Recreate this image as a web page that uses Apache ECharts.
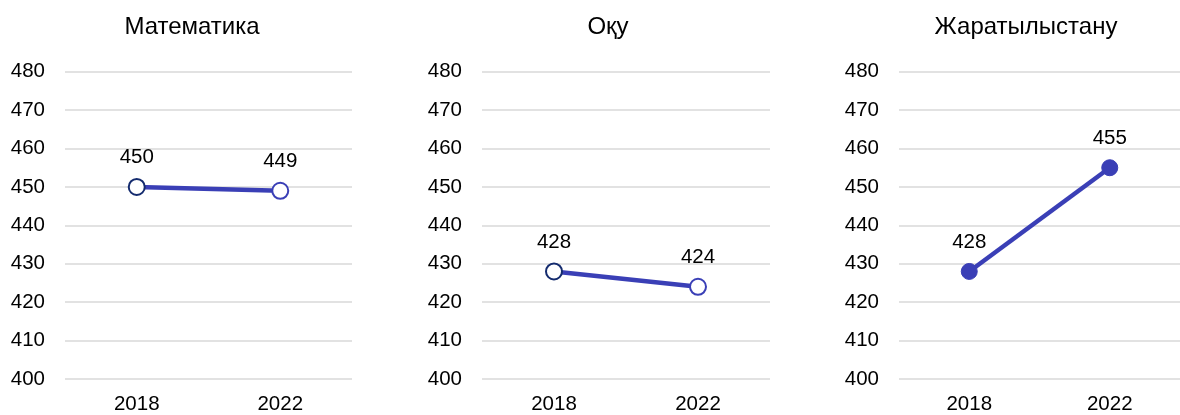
<!DOCTYPE html>
<html><head><meta charset="utf-8">
<script src="https://cdn.jsdelivr.net/npm/echarts@6/dist/echarts.min.js"></script>
<style>html,body{margin:0;padding:0;background:#fff}#c{width:1180px;height:415px}</style>
</head><body><div id="c"></div>
<script>
const titles = ['Математика', 'Оқу', 'Жаратылыстану'];
const years = ['2018', '2022'];
const mathValues = [450, 449];
const readingValues = [428, 424];
const scienceValues = [428, 455];
const yMin = 400, yMax = 480, yStep = 10;

const allValues = [mathValues, readingValues, scienceValues];
const font = '"Liberation Sans", Arial, sans-serif';
const lineColor = '#3A3FB6';
const gridsPos = [
  {left: 65, width: 287},
  {left: 482, width: 288},
  {left: 899, width: 288}
];
const titleCenters = [187, 603, 1021];
const hollow = [true, true, false];

const chart = echarts.init(document.getElementById('c'));
const option = {
  animation: false,
  backgroundColor: '#fff',
  title: titles.map((t, i) => ({
    text: t, left: titleCenters[i], top: 10, textAlign: 'center',
    textStyle: {fontFamily: font, fontSize: 24, fontWeight: 'normal', color: '#000'}
  })),
  grid: gridsPos.map(g => ({left: g.left, width: g.width, top: 71.7, height: 307.6, containLabel: false})),
  xAxis: gridsPos.map((g, i) => ({
    type: 'category', gridIndex: i, data: years, boundaryGap: true,
    axisLine: {show: false}, axisTick: {show: false},
    axisLabel: {fontFamily: font, fontSize: 20.5, color: '#000', margin: 15}
  })),
  yAxis: gridsPos.map((g, i) => ({
    type: 'value', gridIndex: i, min: yMin, max: yMax, interval: yStep,
    axisLine: {show: false}, axisTick: {show: false},
    axisLabel: {fontFamily: font, fontSize: 20.5, color: '#000', margin: 20},
    splitLine: {lineStyle: {color: '#D9D9D9', width: 1.5}}
  })),
  series: allValues.map((vals, i) => ({
    type: 'line', xAxisIndex: i, yAxisIndex: i,
    data: vals.map((v, j) => ({
      value: v,
      itemStyle: hollow[i]
        ? {color: '#fff', borderColor: j === 0 ? '#142B6E' : lineColor, borderWidth: 2}
        : {color: lineColor, borderColor: lineColor, borderWidth: 1}
    })),
    symbol: 'circle', symbolSize: 16, showAllSymbol: true,
    lineStyle: {color: lineColor, width: 4.5},
    label: {show: true, position: 'top', distance: 10, fontFamily: font, fontSize: 20.5, color: '#000'},
    z: 3
  }))
};
chart.setOption(option);
</script></body></html>
